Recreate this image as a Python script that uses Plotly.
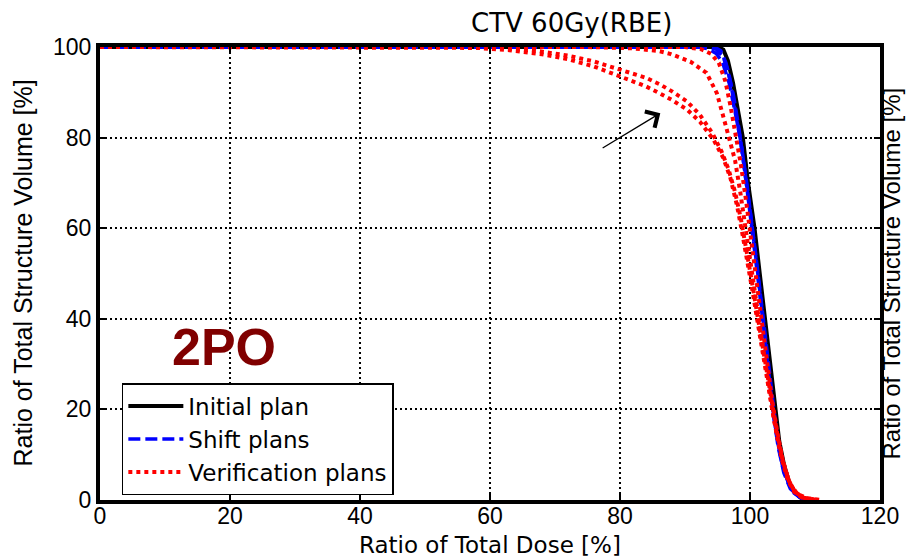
import plotly.graph_objects as go

# Dose-volume histogram data: ratio of total dose [%] vs ratio of structure volume [%]
init_dose = [0, 95.2, 95.9, 96.6, 97.4, 98.2, 98.9, 99.7, 100.7, 101.5, 102.3, 103.0, 103.8, 104.5, 105.2, 106.0, 106.9, 107.8, 108.8]
init_vol = [100, 100, 99.4, 97, 92, 86, 80, 70, 60, 50, 40, 30, 20, 13, 8, 4, 1.7, 0.5, 0]

shift_a_dose = [0, 92.0, 93.5, 94.8, 95.8, 96.8, 97.8, 98.6, 99.5, 100.4, 101.2, 102.0, 102.8, 103.5, 104.3, 105.2, 106.2, 107.5, 109.0]
shift_a_vol = [100, 100, 99.6, 98.6, 96.5, 92, 85, 79, 70, 60, 50, 40, 30, 20, 12, 6, 2.5, 0.8, 0]
shift_b_dose = [0, 93.5, 94.8, 95.8, 96.6, 97.5, 98.3, 99.1, 100.0, 100.9, 101.7, 102.5, 103.3, 104.0, 104.8, 105.6, 106.5, 107.6, 108.8]
shift_b_vol = [100, 100, 99.5, 98, 95, 89, 82, 74, 64, 54, 44, 34, 24, 16, 9.5, 5, 2, 0.6, 0]
shift_c_dose = [0, 94.5, 95.5, 96.3, 97.1, 98.0, 98.8, 99.6, 100.5, 101.3, 102.1, 102.9, 103.6, 104.3, 105.0, 105.9, 106.8, 108.0, 109.3]
shift_c_vol = [100, 100, 99.2, 96.5, 91.5, 84, 77, 68, 58, 48, 38, 28, 19, 12.5, 7.5, 3.8, 1.5, 0.4, 0]

ver_a_dose = [0, 50, 58, 63, 68, 72, 76, 80, 84, 86.2, 88, 90.3, 92.3, 94.4, 95.9, 97.0, 98.0, 98.8, 99.6, 100.4, 101.2, 102.0, 102.8, 103.6, 104.4, 105.2, 106.2, 107.3, 108.8, 110.8]
ver_a_vol = [100, 100, 99.8, 99.3, 98.4, 97.3, 95.7, 93.5, 91.3, 89.7, 88.3, 86.2, 83.5, 79.5, 75.5, 71, 65, 59, 53, 46, 39, 32, 25, 18.5, 12.5, 7.5, 3.5, 1.3, 0.4, 0]
ver_b_dose = [0, 55, 62, 67, 72, 76, 80, 84, 86.2, 88, 90.3, 92.3, 94.2, 95.6, 96.7, 97.7, 98.6, 99.4, 100.2, 101.0, 101.8, 102.6, 103.4, 104.2, 105.0, 105.9, 106.9, 108.2, 110.2]
ver_b_vol = [100, 100, 99.7, 99.2, 98.1, 96.8, 95.0, 93.2, 91.7, 90.2, 88, 85, 81, 77, 73, 68, 62, 56, 49, 42, 35, 28, 21, 14.5, 9, 4.5, 1.8, 0.5, 0]
ver_c_dose = [0, 75, 82, 86, 87.7, 90.8, 93.3, 94.9, 95.9, 96.9, 97.7, 98.5, 99.3, 100.1, 100.9, 101.7, 102.5, 103.3, 104.1, 104.9, 105.8, 106.8, 108.0, 109.8]
ver_c_vol = [100, 100, 99.7, 99.1, 98.5, 96.8, 94.3, 89.8, 84.6, 79.5, 75, 68, 60, 52, 44, 36, 28.5, 21, 14.5, 9, 4.5, 1.8, 0.5, 0]
ver_d_dose = [0, 90, 92.5, 94.0, 95.2, 96.2, 97.0, 97.8, 98.6, 99.4, 100.2, 101.0, 101.8, 102.6, 103.4, 104.2, 105.0, 105.9, 106.9, 108.2, 110.5]
ver_d_vol = [100, 100, 99.5, 98.5, 96.5, 92.5, 87, 81, 74, 66, 57, 48, 39, 30, 22, 15, 9, 4.5, 1.8, 0.5, 0]

x_ticks = [0, 20, 40, 60, 80, 100, 120]
y_ticks = [0, 20, 40, 60, 80, 100]

TICK_FONT = "Liberation Sans, Arial, sans-serif"
TEXT_FONT = "DejaVu Sans, sans-serif"

fig = go.Figure()

fig.add_trace(go.Scatter(x=init_dose, y=init_vol, mode="lines", name="Initial plan",
                         legendgroup="init", line=dict(color="black", width=4)))

for i, (d, v) in enumerate([(shift_a_dose, shift_a_vol), (shift_b_dose, shift_b_vol), (shift_c_dose, shift_c_vol)]):
    fig.add_trace(go.Scatter(x=d, y=v, mode="lines", name="Shift plans", legendgroup="shift",
                             showlegend=(i == 0),
                             line=dict(color="#0000ff", width=3.5, dash="12px,5px")))

for i, (d, v) in enumerate([(ver_a_dose, ver_a_vol), (ver_b_dose, ver_b_vol),
                            (ver_c_dose, ver_c_vol), (ver_d_dose, ver_d_vol)]):
    fig.add_trace(go.Scatter(x=d, y=v, mode="lines", name="Verification plans", legendgroup="ver",
                             showlegend=(i == 0),
                             line=dict(color="#ff0000", width=4, dash="4px,4px")))

axis_common = dict(
    showline=True, linecolor="black", linewidth=4, mirror="ticks",
    ticks="inside", ticklen=6, tickwidth=2, tickcolor="black",
    showgrid=True, gridcolor="black", gridwidth=1.5, griddash="2px,3px",
    zeroline=False, tickfont=dict(family=TICK_FONT, size=23, color="black"),
    layer="above traces",
)

fig.update_xaxes(range=[0, 120], tickvals=x_ticks, ticktext=[str(t) for t in x_ticks],
                 ticklabelstandoff=-8, **axis_common)
fig.update_yaxes(range=[0, 100], tickvals=y_ticks, ticktext=[str(t) for t in y_ticks], **axis_common)

annotations = [
    dict(text="CTV 60Gy(RBE)", x=0.605, y=1, xref="paper", yref="paper",
         xanchor="center", yanchor="bottom", yshift=7, showarrow=False,
         font=dict(family=TEXT_FONT, size=26, color="black")),
    dict(text="Ratio of Total Dose [%]", x=0.5, y=0, xref="paper", yref="paper",
         xanchor="center", yanchor="middle", yshift=-45, showarrow=False,
         font=dict(family=TEXT_FONT, size=23, color="black")),
    dict(text="Ratio of Total Structure Volume [%]", x=0, y=0.5, xref="paper", yref="paper",
         xanchor="center", yanchor="middle", xshift=-78, textangle=-90, showarrow=False,
         font=dict(family=TICK_FONT, size=25, color="black")),
    dict(text="Ratio of Total Structure Volume [%]", x=1, y=0.5, xref="paper", yref="paper",
         xanchor="center", yanchor="middle", xshift=11, textangle=-90, showarrow=False,
         font=dict(family=TICK_FONT, size=24, color="black")),
    dict(text="<b>2PO</b>", x=19.1, y=33.8, xref="x", yref="y", showarrow=False,
         xanchor="center", yanchor="middle",
         font=dict(family=TICK_FONT, size=52, color="#800000")),
    dict(text="", x=86.2, y=85.4, ax=77.1, ay=77.5, xref="x", yref="y", axref="x", ayref="y",
         showarrow=True, arrowhead=4, arrowsize=2.8, arrowwidth=1.3, arrowcolor="black"),
]

fig.update_layout(
    width=906, height=558,
    margin=dict(l=100, r=26, t=47, b=58, autoexpand=False),
    paper_bgcolor="white", plot_bgcolor="white",
    showlegend=True,
    legend=dict(x=0.028, y=0.258, xanchor="left", yanchor="top",
                bgcolor="white", bordercolor="black", borderwidth=1.5,
                font=dict(family=TEXT_FONT, size=23, color="black"),
                itemwidth=55, tracegroupgap=0),
    annotations=annotations,
)

fig.write_html("out.html")
